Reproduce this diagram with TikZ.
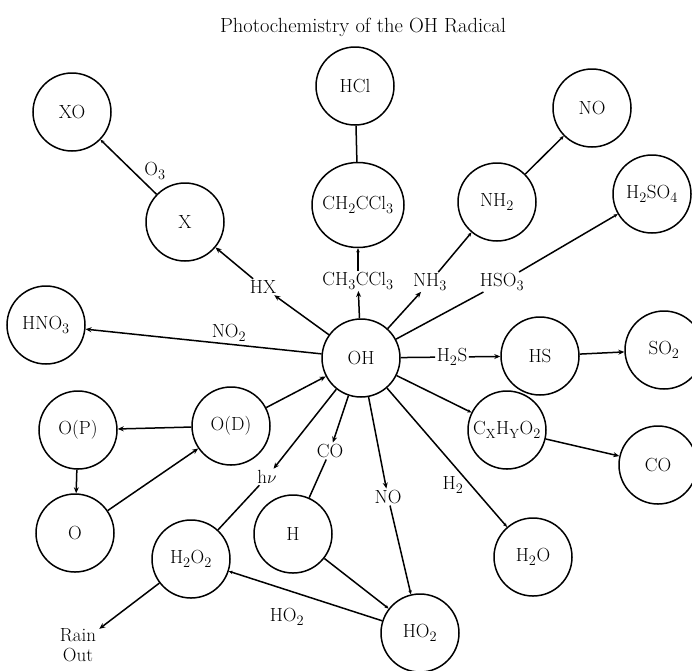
\documentclass[tikz,border=0pt]{standalone}
\usepackage{fontspec}
\usetikzlibrary{arrows.meta,shapes.geometric}
\begin{document}
\begin{tikzpicture}[x=1pt,y=-1pt,
  every node/.style={font=\fontsize{19}{22}\selectfont},
  spec/.style={draw,circle,line width=1.5pt,minimum size=78pt,inner sep=0pt},
  lab/.style={inner sep=1.5pt},
  conn/.style={line width=1.5pt},
  arr/.style={line width=1.5pt,-{Stealth[length=6pt,width=5pt]}},
  sarr/.style={line width=1.5pt,-{Stealth[length=4pt,width=3.5pt]}}]
\useasboundingbox (0,0) rectangle (692,670);
% title
\node[font=\fontsize{20.5}{24}\selectfont] (title) at (363,27) {Photochemistry of the OH Radical};
% species circles
\node[spec] (XO) at (72,112) {XO};
\node[spec] (X) at (185,222) {X};
\node[spec] (HCl) at (355,86) {HCl};
\node[spec,ellipse,minimum width=92pt,minimum height=85pt] (CH2) at (358,205) {\makebox[0pt]{CH$_2$CCl$_3$}};
\node[spec] (NOt) at (592,108) {NO};
\node[spec] (NH2) at (497,202) {NH$_2$};
\node[spec] (H2SO4) at (652,194) {\makebox[0pt]{H$_2$SO$_4$}};
\node[spec] (HNO3) at (46,325) {\makebox[0pt]{HNO$_3$}};
\node[spec] (OH) at (361,358) {OH};
\node[spec] (HS) at (540,356) {HS};
\node[spec] (SO2) at (664,350) {SO$_2$};
\node[spec] (CX) at (507,430) {\makebox[0pt]{C$_\mathrm{X}$H$_\mathrm{Y}$O$_2$}};
\node[spec] (COr) at (658,465) {CO};
\node[spec] (OD) at (231,426) {O(D)};
\node[spec] (OP) at (78,430) {O(P)};
\node[spec] (O) at (75,533) {O};
\node[spec] (H2O2) at (191,559) {H$_2$O$_2$};
\node[spec] (H) at (293,534) {H};
\node[spec] (HO2) at (420,633) {HO$_2$};
\node[spec] (H2O) at (533,557) {H$_2$O};
% text labels
\node[lab] (O3) at (155,171) {O$_3$};
\node[lab] (HX) at (263,287) {HX};
\node[lab] (CH3) at (358,281) {CH$_3$CCl$_3$};
\node[lab] (NH3) at (430,282) {NH$_3$};
\node[lab] (HSO3) at (502,282) {HSO$_3$};
\node[lab] (NO2) at (229,333) {NO$_2$};
\node[lab] (H2S) at (452,357) {H$_2$S};
\node[lab] (COm) at (330,451) {CO};
\node[lab] (hv) at (267,477) {h$\nu$};
\node[lab] (NOm) at (388,497) {NO};
\node[lab] (H2) at (453,485) {H$_2$};
\node[lab] (HO2l) at (287,617) {HO$_2$};
\node[lab,align=center,inner sep=3pt] (rain) at (78,645) {Rain\\[-2pt]Out};
% connectors
\draw[sarr] (X) -- (XO);
\draw[arr] (OH) -- (HX);
\draw[arr] (HX) -- (X);
\draw[arr] (OH) -- (CH3);
\draw[sarr] (CH3) -- (CH2);
\draw[conn] (CH2) -- (HCl);
\draw[arr] (OH) -- (NH3);
\draw[sarr] (NH3) -- (NH2);
\draw[sarr] (NH2) -- (NOt);
\draw[conn] (OH) -- (HSO3);
\draw[sarr] (HSO3) -- (H2SO4);
\draw[arr] (OH) -- (HNO3);
\draw[conn] (OH) -- (H2S);
\draw[arr] (H2S) -- (HS);
\draw[arr] (HS) -- (SO2);
\draw[sarr] (OH) -- (CX);
\draw[arr] (CX) -- (COr);
\draw[arr] (OD) -- (OH);
\draw[arr] (OD) -- (OP);
\draw[arr] (OP) -- (O);
\draw[arr] (O) -- (OD);
\draw[arr] (OH) -- (hv);
\draw[conn] (hv) -- (H2O2);
\draw[arr] (OH) -- (COm);
\draw[conn] (COm) -- (H);
\draw[arr] (OH) -- (NOm);
\draw[sarr] (NOm) -- (HO2);
\draw[sarr] (OH) -- (H2O);
\draw[sarr] (H) -- (HO2);
\draw[sarr] (HO2) -- (H2O2);
\draw[arr] (H2O2) -- (rain);
\end{tikzpicture}
\end{document}
